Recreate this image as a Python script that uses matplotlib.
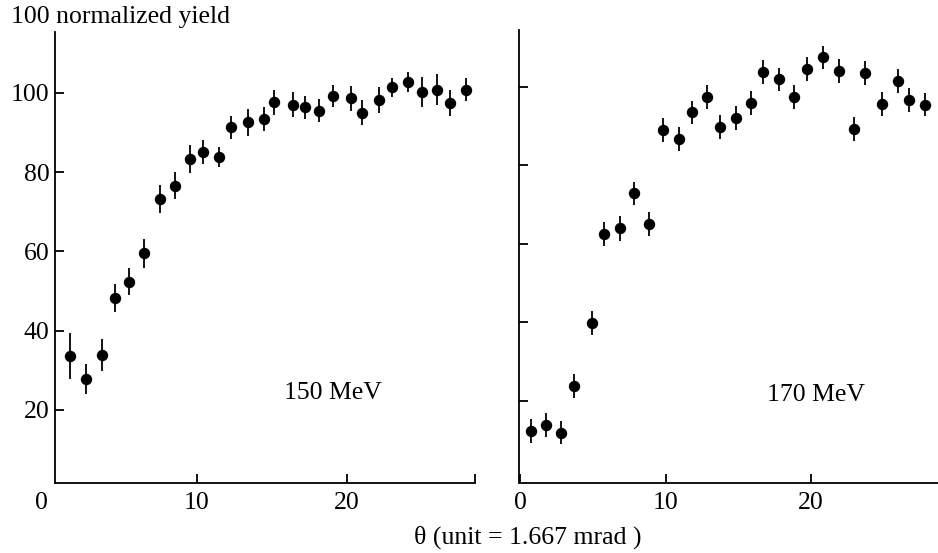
import matplotlib
matplotlib.use("Agg")
import matplotlib.pyplot as plt
import matplotlib.transforms as mtransforms

plt.rcParams['font.family'] = ['Liberation Serif', 'DejaVu Serif']
plt.rcParams['font.size'] = 18.5

# 150 MeV: angle (units of 1.667 mrad), normalized yield, error
theta_150 = [1.53, 2.62, 3.69, 4.55, 5.51, 6.51, 7.55, 8.53, 9.53, 10.44,
             11.49, 12.31, 13.40, 14.49, 15.17, 16.42, 17.24, 18.17, 19.11, 20.27,
             21.04, 22.15, 23.02, 24.09, 25.02, 26.00, 26.91, 27.93]
yield_150 = [33.5, 27.9, 33.9, 48.3, 52.3, 59.5, 73.2, 76.6, 83.3, 85.1,
             83.8, 91.3, 92.5, 93.3, 97.6, 97.0, 96.3, 95.5, 99.2, 98.6,
             95.0, 98.2, 101.4, 102.8, 100.2, 100.8, 97.4, 100.8]
err_150 = [5.8, 3.8, 4.0, 3.5, 3.4, 3.6, 3.6, 3.5, 3.5, 3.0,
           2.4, 2.9, 3.3, 3.0, 3.2, 3.1, 3.0, 3.0, 2.7, 3.2,
           3.2, 3.3, 2.4, 2.5, 3.7, 3.9, 3.2, 3.0]

# 170 MeV
theta_170 = [0.72, 1.78, 2.77, 3.71, 4.90, 5.75, 6.85, 7.84, 8.83, 9.79,
             10.90, 11.81, 12.84, 13.72, 14.82, 15.85, 16.70, 17.82, 18.84, 19.71,
             20.81, 21.91, 22.97, 23.71, 24.88, 26.02, 26.76, 27.86]
yield_170 = [12.2, 13.8, 11.9, 23.7, 39.8, 62.4, 63.9, 72.8, 65.1, 88.9,
             86.7, 93.4, 97.4, 89.7, 92.0, 95.7, 103.8, 101.8, 97.4, 104.5,
             107.4, 104.0, 89.1, 103.5, 95.6, 101.5, 96.6, 95.4]
err_170 = [3.05, 3.05, 3.0, 3.1, 3.1, 3.1, 3.1, 3.0, 3.05, 3.05,
           3.05, 3.05, 3.0, 3.0, 3.0, 3.05, 3.05, 3.0, 3.0, 3.0,
           3.05, 3.0, 3.05, 3.05, 3.05, 3.05, 3.0, 3.0]

y_ticks = [20, 40, 60, 80, 100]
x_ticks = [10, 20]

W, H = 938, 553
fig = plt.figure(figsize=(W / 100, H / 100), dpi=100)

def frac_box(x0, x1, ytop, ybot):
    return [x0 / W, 1 - ybot / H, (x1 - x0) / W, (ybot - ytop) / H]

ax1 = fig.add_axes(frac_box(54.7, 475.3, 31.7, 482.5))
ax2 = fig.add_axes(frac_box(519.3, 938.0, 30.0, 482.5))

for ax in (ax1, ax2):
    for side in ('top', 'right'):
        ax.spines[side].set_visible(False)
    for side in ('left', 'bottom'):
        ax.spines[side].set_linewidth(1.3)
    ax.tick_params(direction='in', length=6.5, width=1.3)
    ax.tick_params(axis='y', pad=3.6)
    ax.tick_params(axis='x', pad=6.5)

style = dict(fmt='o', color='black', ms=7.2, elinewidth=1.3, capsize=0)

ax1.errorbar(theta_150, yield_150, yerr=err_150, **style)
ax1.set_xlim(0.53, 28.57)
ax1.set_ylim(1.7, 115.4)
ax1.set_yticks(y_ticks)
ax1.set_xticks(x_ticks + [28.57], labels=[str(t) for t in x_ticks] + [''])
# origin label sits just left of the shifted axis start
offset = mtransforms.ScaledTranslation(0, -6.5 / 72, fig.dpi_scale_trans)
trans = mtransforms.blended_transform_factory(ax1.transData, ax1.transAxes) + offset
ax1.text(-0.33, 0, '0', transform=trans, ha='center', va='top', clip_on=False)
ax1.text(0.662, 0.198, '150 MeV', transform=ax1.transAxes, ha='center', va='center')

ax2.errorbar(theta_170, yield_170, yerr=err_170, **style)
ax2.set_xlim(-0.08, 28.75)
ax2.set_ylim(-0.8, 114.4)
ax2.set_yticks(y_ticks, labels=[])
ax2.set_xticks([0] + x_ticks, labels=['0'] + [str(t) for t in x_ticks])
ax2.text(0.709, 0.193, '170 MeV', transform=ax2.transAxes, ha='center', va='center')

fig.text(11 / W, 1 - 16.7 / H, '100 normalized yield', ha='left', va='center')
fig.text(528 / W, 1 - 537 / H, 'θ (unit = 1.667 mrad )', ha='center', va='center')

fig.savefig('out.png', dpi=100)
